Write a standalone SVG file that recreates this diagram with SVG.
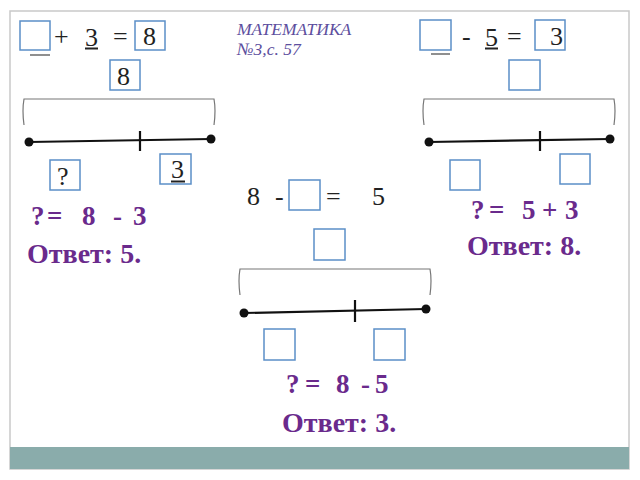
<svg xmlns="http://www.w3.org/2000/svg" width="640" height="480" viewBox="0 0 640 480">
<style>
.frame{fill:#ffffff;stroke:#c9c9c9;stroke-width:1.5}
.bar{fill:#8aacab}
.box{fill:#ffffff;stroke:#5b8fc7;stroke-width:1.5}
.eq{font-family:"Liberation Serif","Times New Roman",serif;font-size:26px;fill:#222}
.ul{stroke:#222;stroke-width:2}
.ul1{stroke:#444;stroke-width:1.2}
.title{font-family:"Liberation Serif","Times New Roman",serif;font-style:italic;font-size:17.5px;fill:#5d4f9e}
.ans{font-family:"Liberation Serif","Times New Roman",serif;font-weight:bold;font-size:27px;fill:#6a2a8c}
.ansT{font-family:"Liberation Serif","Times New Roman",serif;font-weight:bold;font-size:28px;fill:#6a2a8c}
.brace{fill:none;stroke:#777;stroke-width:1.2}
.seg{stroke:#111;stroke-width:2.2}
.dot{fill:#111}
</style>
<rect class="frame" x="10" y="11" width="619" height="458"/>
<rect class="bar" x="10" y="447" width="619" height="22"/>

<g id="title">
<text class="title" x="237" y="35">МАТЕМАТИКА</text>
<text class="title" x="237" y="55">№3,с. 57</text>
</g>

<g id="task-left">
<rect class="box" x="20" y="21" width="30" height="29"/>
<line class="ul1" x1="30" y1="55" x2="50" y2="55"/>
<text class="eq" x="54" y="45">+</text>
<text class="eq" x="85" y="46">3</text>
<line class="ul" x1="85" y1="48.5" x2="98" y2="48.5"/>
<text class="eq" x="113" y="45">=</text>
<rect class="box" x="135" y="21" width="30" height="29"/>
<text class="eq" x="143" y="45">8</text>
<rect class="box" x="110" y="60" width="30" height="30"/>
<text class="eq" x="117" y="85">8</text>
<path class="brace" d="M24,125 Q22,110 24,99 L214,99 Q216,110 214,125"/>
<line class="seg" x1="29" y1="142" x2="211" y2="139"/>
<circle class="dot" cx="29" cy="142" r="4.5"/>
<circle class="dot" cx="211" cy="139" r="4.5"/>
<line class="seg" x1="140" y1="131" x2="140" y2="151"/>
<rect class="box" x="50" y="160" width="30" height="30"/>
<text class="eq" x="57" y="185">?</text>
<rect class="box" x="160" y="154" width="31" height="30"/>
<text class="eq" x="171" y="178">3</text>
<line class="ul" x1="171" y1="181.5" x2="185" y2="181.5"/>
<text class="ans" y="225"><tspan x="31">?</tspan><tspan x="47">=</tspan><tspan x="82">8</tspan><tspan x="113">-</tspan><tspan x="133">3</tspan></text>
<text class="ansT" x="27" y="263">Ответ: 5.</text>
</g>

<g id="task-right">
<rect class="box" x="420" y="20" width="31" height="30"/>
<line class="ul1" x1="431" y1="54" x2="450" y2="54"/>
<text class="eq" x="462" y="45">-</text>
<text class="eq" x="485" y="46">5</text>
<line class="ul" x1="485" y1="48.5" x2="498" y2="48.5"/>
<text class="eq" x="507" y="45">=</text>
<rect class="box" x="535" y="20" width="30" height="30"/>
<text class="eq" x="550" y="45">3</text>
<rect class="box" x="509" y="60" width="31" height="30"/>
<path class="brace" d="M424,125 Q422,110 424,99 L614,99 Q616,110 614,125"/>
<line class="seg" x1="429" y1="142" x2="610" y2="139"/>
<circle class="dot" cx="429" cy="142" r="4.5"/>
<circle class="dot" cx="610" cy="139" r="4.5"/>
<line class="seg" x1="540" y1="131" x2="540" y2="151"/>
<rect class="box" x="450" y="160" width="30" height="30"/>
<rect class="box" x="560" y="154" width="30" height="30"/>
<text class="ans" y="219"><tspan x="471">?</tspan><tspan x="489">=</tspan><tspan x="522">5</tspan><tspan x="542">+</tspan><tspan x="565">3</tspan></text>
<text class="ansT" x="467" y="255">Ответ: 8.</text>
</g>

<g id="task-middle">
<text class="eq" x="247" y="205">8</text>
<text class="eq" x="275" y="205">-</text>
<rect class="box" x="289" y="180" width="31" height="30"/>
<text class="eq" x="326" y="205">=</text>
<text class="eq" x="372" y="205">5</text>
<rect class="box" x="314" y="229" width="31" height="31"/>
<path class="brace" d="M240,295 Q238,280 240,269 L430,269 Q432,280 430,295"/>
<line class="seg" x1="244" y1="313" x2="426" y2="309"/>
<circle class="dot" cx="244" cy="313" r="4.5"/>
<circle class="dot" cx="426" cy="309" r="4.5"/>
<line class="seg" x1="355" y1="300" x2="355" y2="322"/>
<rect class="box" x="264" y="329" width="31" height="31"/>
<rect class="box" x="374" y="329" width="31" height="31"/>
<text class="ans" y="393"><tspan x="286">?</tspan><tspan x="305">=</tspan><tspan x="336">8</tspan><tspan x="361">-</tspan><tspan x="375">5</tspan></text>
<text class="ansT" x="282" y="432">Ответ: 3.</text>
</g>
</svg>
